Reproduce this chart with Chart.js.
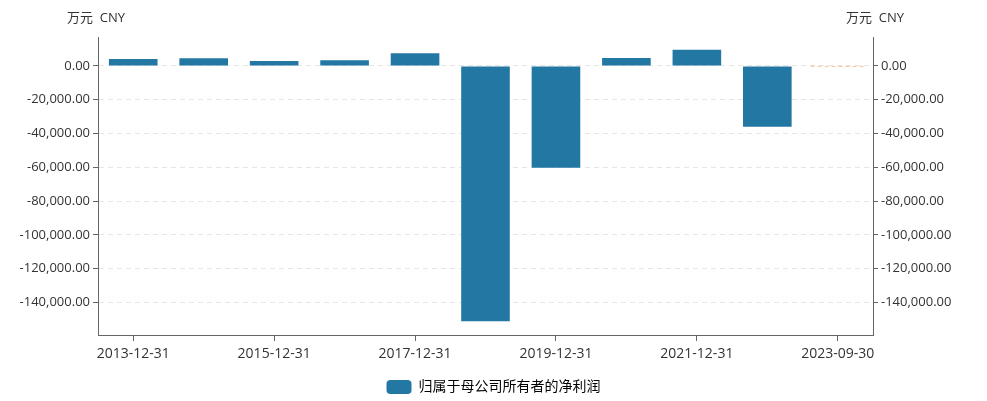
<!DOCTYPE html>
<html>
<head>
<meta charset="utf-8">
<script src="https://cdn.jsdelivr.net/npm/chart.js@4"></script>
<style>
html,body{margin:0;padding:0;background:#fff;}
#wrap{width:987px;height:401px;}
</style>
</head>
<body>
<div id="wrap"><canvas id="c" width="987" height="401"></canvas></div>
<script>
// data
const categories=["2013-12-31","2014-12-31","2015-12-31","2016-12-31","2017-12-31","2018-12-31","2019-12-31","2020-12-31","2021-12-31","2022-12-31","2023-09-30"];
const netProfit=[4100,4500,2950,3400,7500,-151200,-60350,4700,9600,-36000,0];
const seriesName="归属于母公司所有者的净利润";
const unitText="万元  CNY";
const yTicks=[0,-20000,-40000,-60000,-80000,-100000,-120000,-140000];
const yMin=-159300, yMax=17100;

const FONT="'Open Sans','Noto Sans CJK SC',sans-serif";

function fmt(v){
return v.toLocaleString("en-US",{minimumFractionDigits:2,maximumFractionDigits:2});
}

function setTicks(scale){
scale.ticks=yTicks.map(v=>({value:v}));
}

// unit labels above both axes + faint marker at last period
const extras={
id:"extras",
afterDraw(chart){
const ctx=chart.ctx;
const y=chart.scales.y, x=chart.scales.x;
ctx.save();
ctx.font="13px "+FONT;
ctx.fillStyle="#333";
ctx.textBaseline="middle";
ctx.textAlign="center";
ctx.fillText(unitText,y.right-2,18);
ctx.fillText(unitText,chart.scales.y2.left+2,18);

// last period marker
const i=categories.length-1;
const cx=x.getPixelForValue(i);
const half=x.width/categories.length/2;
const py=y.getPixelForValue(netProfit[i]);
ctx.strokeStyle="rgba(240,170,110,0.7)";
ctx.lineWidth=1;
ctx.setLineDash([4,3]);
ctx.beginPath();
ctx.moveTo(cx-half+8,py+0.5);
ctx.lineTo(cx+half-8,py+0.5);
ctx.stroke();
ctx.restore();
}
};

new Chart(document.getElementById("c"),{
type:"bar",
data:{
labels:categories,
datasets:[{
label:seriesName,
data:netProfit,
backgroundColor:"#2277a3",
barPercentage:0.69,
categoryPercentage:1
}]
},
options:{
responsive:false,
animation:false,
layout:{padding:{top:37,bottom:-3,left:0,right:0}},
plugins:{
legend:{
position:"bottom",
labels:{boxWidth:25,boxHeight:14,color:"#333",font:{size:14,family:FONT},padding:9,
generateLabels(chart){
return [{text:seriesName,fillStyle:"#2277a3",strokeStyle:"#2277a3",lineWidth:0,borderRadius:4,datasetIndex:0}];
},useBorderRadius:true,borderRadius:4}
},
tooltip:{enabled:false}
},
scales:{
x:{
offset:true,
grid:{display:true,drawOnChartArea:false,drawTicks:true,tickLength:6,color:"#666",offset:false},
border:{display:true,color:"#666"},
afterBuildTicks(scale){
scale.ticks=scale.ticks.filter(t=>t.value%2===0);
},
ticks:{autoSkip:false,maxRotation:0,color:"#333",font:{size:14,family:FONT},padding:5,
callback(v){return categories[v];}},
afterFit(scale){scale.height=36;}
},
y:{
position:"left",
min:yMin,max:yMax,
afterBuildTicks:setTicks,
grid:{color:"#e6e6e6",drawTicks:true,tickLength:5,tickColor:"#666",lineWidth:1},
border:{display:true,color:"#666",dash:[5,4]},
ticks:{color:"#333",font:{size:13,family:FONT},padding:3,callback:v=>fmt(v)},
afterFit(scale){scale.width=98;}
},
y2:{
position:"right",
min:yMin,max:yMax,
afterBuildTicks:setTicks,
grid:{drawOnChartArea:false,drawTicks:true,tickLength:5,color:"#666"},
border:{display:true,color:"#666"},
ticks:{color:"#333",font:{size:13,family:FONT},padding:3,callback:v=>fmt(v)},
afterFit(scale){scale.width=114;}
}
}
},
plugins:[extras]
});
</script>
</body>
</html>
